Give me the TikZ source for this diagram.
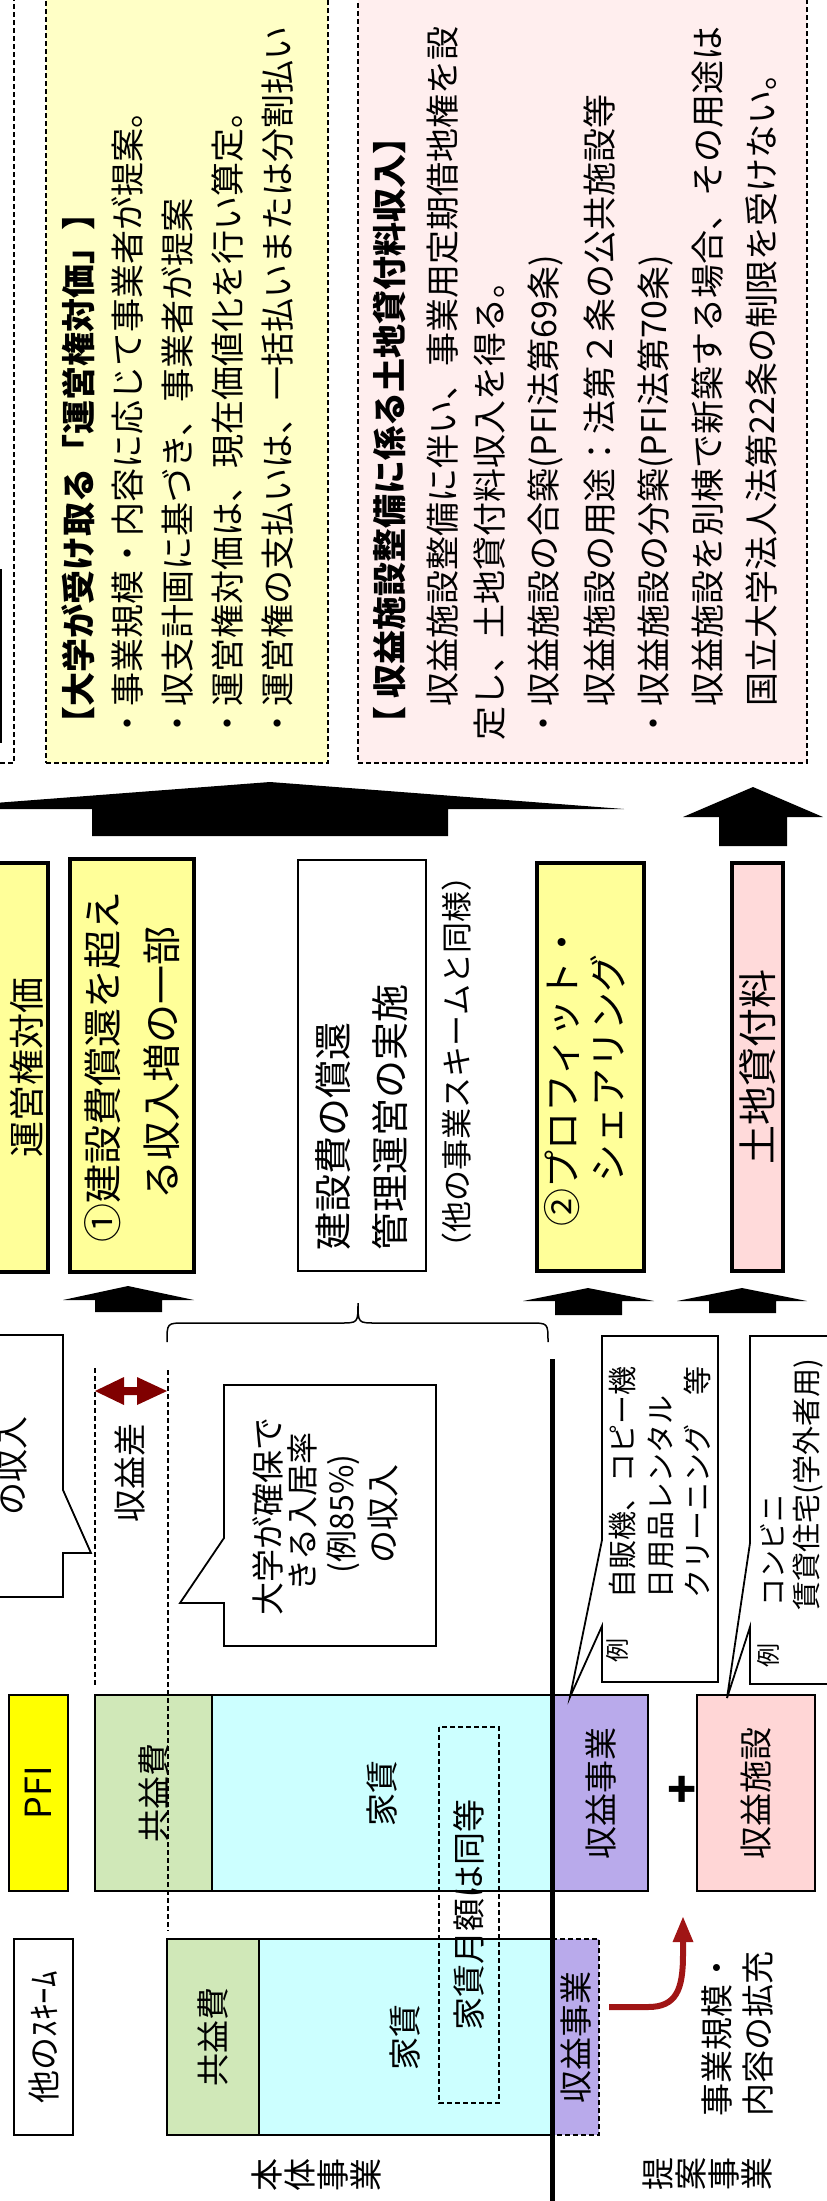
\documentclass[tikz,border=0pt]{standalone}
\usepackage{fontspec}
\setmainfont{Noto Sans CJK JP}
\usetikzlibrary{arrows.meta}
\definecolor{ylight}{HTML}{FFFFC6}
\definecolor{pinkl}{HTML}{FFEEEE}
\definecolor{ybox}{HTML}{FFFF99}
\definecolor{pbox}{HTML}{FFDADA}
\definecolor{pfiy}{HTML}{FFFF00}
\definecolor{gbox}{HTML}{D0E8B8}
\definecolor{cbox}{HTML}{CCFFFF}
\definecolor{vbox}{HTML}{B9AAEB}
\definecolor{sbox}{HTML}{FFD6D6}
\definecolor{dred}{HTML}{800000}
\definecolor{cred}{HTML}{A01515}
\newcommand\jfs[1]{\fontsize{#1}{#1}\selectfont}
\begin{document}
\begin{tikzpicture}[x=1pt,y=-1pt,
  box/.style={draw, line width=1.8pt, inner sep=0pt, outer sep=0pt},
  thickbox/.style={draw, line width=4.5pt, inner sep=0pt, outer sep=0pt},
  dbox/.style={draw, line width=1.5pt, dash pattern=on 5pt off 3pt, inner sep=0pt, outer sep=0pt},
  vt/.style={rotate=90, inner sep=0pt, outer sep=0pt, execute at begin node={\rule[-0.12em]{0pt}{1em}}},
  dline/.style={line width=1.8pt, dash pattern=on 5pt off 3pt},
  bubble/.style={draw, line width=1.8pt, fill=white},
]
\useasboundingbox (0,0) rectangle (827,2201);
\clip (0,0) rectangle (827,2201);

% ---------- top boxes ----------
\node[dbox, fill=white, minimum width=134pt, minimum height=783pt] (lbox) at (-53,371.5) {};
\node[box, minimum width=60pt, minimum height=172pt] (lsolid) at (-29,656) {};
\node[dbox, fill=ylight, minimum width=282pt, minimum height=783pt] (ybig) at (187,371.5) {};
\node[dbox, fill=pinkl, minimum width=449pt, minimum height=783pt] (pbig) at (582.5,371.5) {};

\node[vt, anchor=west, font=\jfs{34}\bfseries] (yt) at (79,740) {【大学が受け取る「運営権対価」】};
\node[vt, anchor=west, font=\jfs{34}] (y1) at (128,740) {・事業規模・内容に応じて事業者が提案。};
\node[vt, anchor=west, font=\jfs{34}] (y2) at (178,740) {・収支計画に基づき、事業者が提案};
\node[vt, anchor=west, font=\jfs{34}] (y3) at (228,740) {・運営権対価は、現在価値化を行い算定。};
\node[vt, anchor=west, font=\jfs{34}] (y4) at (278,740) {・運営権の支払いは、一括払いまたは分割払い};

\node[vt, anchor=west, font=\jfs{34}\bfseries] (pt) at (390,740) {【 収益施設整備に係る土地貸付料収入】};
\node[vt, anchor=west, font=\jfs{34}] (p1) at (443,740) {　収益施設整備に伴い、事業用定期借地権を設};
\node[vt, anchor=west, font=\jfs{34}] (p2) at (490,740) {定し、土地貸付料収入を得る。};
\node[vt, anchor=west, font=\jfs{34}] (p3) at (545,740) {・収益施設の合築(PFI法第69条)};
\node[vt, anchor=west, font=\jfs{34}] (p4) at (600,740) {　収益施設の用途：法第２条の公共施設等};
\node[vt, anchor=west, font=\jfs{34}] (p5) at (655,740) {・収益施設の分築(PFI法第70条)};
\node[vt, anchor=west, font=\jfs{34}] (p6) at (708,740) {　収益施設を別棟で新築する場合、その用途は};
\node[vt, anchor=west, font=\jfs{34}] (p7) at (762,740) {　国立大学法人法第22条の制限を受けない。};

% ---------- big block arrows ----------
\fill (-84,809) -- (270,782) -- (624,809) -- (448,809) -- (448,836) -- (92,836) -- (92,809) -- cycle;
\fill (683,817) -- (753,787) -- (823,817) -- (787,817) -- (787,846) -- (719,846) -- (719,817) -- cycle;

% ---------- middle boxes ----------
\node[thickbox, fill=ybox, minimum width=56pt, minimum height=409pt] (unei) at (20,1067.5) {};
\node[vt, font=\jfs{36}] (ueit) at (27,1067.5) {運営権対価};
\node[thickbox, fill=ybox, minimum width=124pt, minimum height=413pt] (b1) at (132,1065.5) {};
\node[vt, font=\jfs{39}] (b1a) at (103,1067) {①建設費償還を超え};
\node[vt, font=\jfs{39}] (b1b) at (162,1063) {る収入増の一部};
\node[box, minimum width=128pt, minimum height=411pt] (kb) at (362,1065.5) {};
\node[vt, anchor=west, font=\jfs{38}] (kb1) at (333,1250) {建設費の償還};
\node[vt, anchor=west, font=\jfs{38}] (kb2) at (390,1250) {管理運営の実施};
\node[vt, font=\jfs{31}] (same) at (457,1062) {（他の事業スキームと同様）};
\node[thickbox, fill=ybox, minimum width=107pt, minimum height=408pt] (b2) at (590.5,1067) {};
\node[vt, font=\jfs{38}] (b2a) at (562,1075) {②プロフィット・};
\node[vt, font=\jfs{38}] (b2b) at (608,1068) {シェアリング};
\node[thickbox, fill=pbox, rotate=90, minimum width=408pt, minimum height=51pt, font=\jfs{39}] (land) at (757.5,1067) {土地貸付料};

% ---------- small block arrows ----------
\fill (63,1300) -- (128,1286) -- (194,1300) -- (162,1300) -- (162,1312) -- (95,1312) -- (95,1300) -- cycle;
\fill (523,1301) -- (588,1288) -- (654,1301) -- (622,1301) -- (622,1315) -- (555,1315) -- (555,1301) -- cycle;
\fill (677,1301) -- (742,1288) -- (807,1301) -- (776,1301) -- (776,1313) -- (709,1313) -- (709,1301) -- cycle;

% ---------- brace ----------
\draw[line width=1.5pt] (167,1342) .. controls (167,1323) .. (185,1323) -- (340,1323) .. controls (358,1323) .. (358,1303) .. controls (358,1323) .. (376,1323) -- (530,1323) .. controls (548,1323) .. (548,1342);

% ---------- bubbles ----------
\draw[bubble] (-20,1335) -- (63,1335) -- (63,1490) -- (91,1553) -- (63,1553) -- (63,1597) -- (-20,1597);
\node[vt, font=\jfs{33}] (inc1) at (12,1466) {の収入};

\draw[bubble] (436,1385) -- (224,1385) -- (224,1538) -- (180,1603) -- (224,1603) -- (224,1646) -- (436,1646) -- cycle;
\node[vt, font=\jfs{33}] (q1) at (268,1516) {大学が確保で};
\node[vt, font=\jfs{32}] (q2) at (302,1512) {きる入居率};
\node[vt, font=\jfs{32}] (q3) at (343,1514) {(例85\%)};
\node[vt, font=\jfs{33}] (q4) at (383,1514) {の収入};

% ---------- revenue difference ----------
\draw[dline] (95,1368) -- (95,1687);
\fill[dred] (95,1391) -- (124,1377) -- (124,1387) -- (137,1387) -- (137,1377) -- (167,1391) -- (137,1405) -- (137,1395) -- (124,1395) -- (124,1405) -- cycle;
\node[vt, font=\jfs{33}] (sa) at (130,1473) {収益差};

% ---------- PFI row ----------
\node[box, fill=pfiy, rotate=90, minimum width=196pt, minimum height=59pt, font=\jfs{36}] (pfi) at (38.5,1793) {PFI};
\node[box, fill=gbox, rotate=90, minimum width=196pt, minimum height=117pt, font=\jfs{33}] (g1) at (153.5,1793) {共益費};
\node[box, fill=cbox, rotate=90, minimum width=196pt, minimum height=340pt, font=\jfs{33}] (r1) at (382,1793) {家賃};
\node[box, fill=vbox, rotate=90, minimum width=196pt, minimum height=94pt, font=\jfs{33}] (rev1) at (601,1793) {収益事業};
\node[font=\jfs{48}\bfseries, inner sep=0pt] (plus) at (682,1792) {+};
\node[box, fill=sbox, rotate=90, minimum width=196pt, minimum height=118pt, font=\jfs{33}] (fac) at (756,1793) {収益施設};

% ---------- other scheme row ----------
\node[box, fill=white, rotate=90, minimum width=196pt, minimum height=59pt, font=\jfs{33}] (oth) at (43.5,2037) {他のｽｷｰﾑ};
\node[box, fill=gbox, rotate=90, minimum width=196pt, minimum height=92pt, font=\jfs{33}] (g2) at (213,2037) {共益費};
\node[box, fill=cbox, rotate=90, minimum width=196pt, minimum height=293pt, font=\jfs{33}] (r2) at (405.5,2037) {家賃};
\node[dbox, fill=vbox, rotate=90, minimum width=196pt, minimum height=46pt, font=\jfs{33}] (rev2) at (576,2037) {収益事業};

\node[dbox, rotate=90, minimum width=376pt, minimum height=60pt, font=\jfs{33}] (eq) at (469,1915) {家賃月額は同等};
\draw[dline] (168,1370) -- (168,1931);

% ---------- expansion arrow ----------
\coordinate (ra) at (609,2007);
\coordinate (rb) at (683,1916);
\draw[cred, line width=6pt, -{Triangle[length=26pt,width=19pt]}] (ra) -- (648,2007) .. controls (676,2007) and (683,1990) .. (683,1955) -- (rb);
\node[vt, anchor=west, font=\jfs{33}] (e1) at (717,2116) {事業規模・};
\node[vt, anchor=west, font=\jfs{33}] (e2) at (758,2116) {内容の拡充};

% ---------- example bubbles ----------
\draw[bubble] (602,1336) -- (718,1336) -- (718,1682) -- (602,1682) -- (602,1626) -- (570,1697) -- (602,1540) -- cycle;
\node[vt, font=\jfs{24}] (ex1) at (617,1650) {例};
\node[vt, anchor=west, font=\jfs{29}] (ex1a) at (622,1598) {自販機、コピー機};
\node[vt, anchor=west, font=\jfs{29}] (ex1b) at (660,1598) {日用品レンタル};
\node[vt, anchor=west, font=\jfs{29}] (ex1c) at (697,1598) {クリーニング　等};

\draw[bubble] (750,1336) -- (860,1336) -- (860,1684) -- (750,1684) -- (750,1627) -- (727,1698) -- (750,1543) -- cycle;
\node[vt, font=\jfs{24}] (ex2) at (768,1655) {例};
\node[vt, anchor=west, font=\jfs{28}] (ex2a) at (773,1606) {コンビニ};
\node[vt, anchor=west, font=\jfs{29}] (ex2b) at (808,1610) {賃貸住宅(学外者用)};

% ---------- labels ----------
\node[rotate=90, font=\jfs{33}, align=center, inner sep=0pt] (hon) at (316,2175) {本\\体\\事\\業};
\node[rotate=90, font=\jfs{33}, align=center, inner sep=0pt] (tei) at (707,2174) {提\\案\\事\\業};

% ---------- divider ----------
\draw[line width=5pt] (552,1359) -- (552,2215);
\end{tikzpicture}
\end{document}
